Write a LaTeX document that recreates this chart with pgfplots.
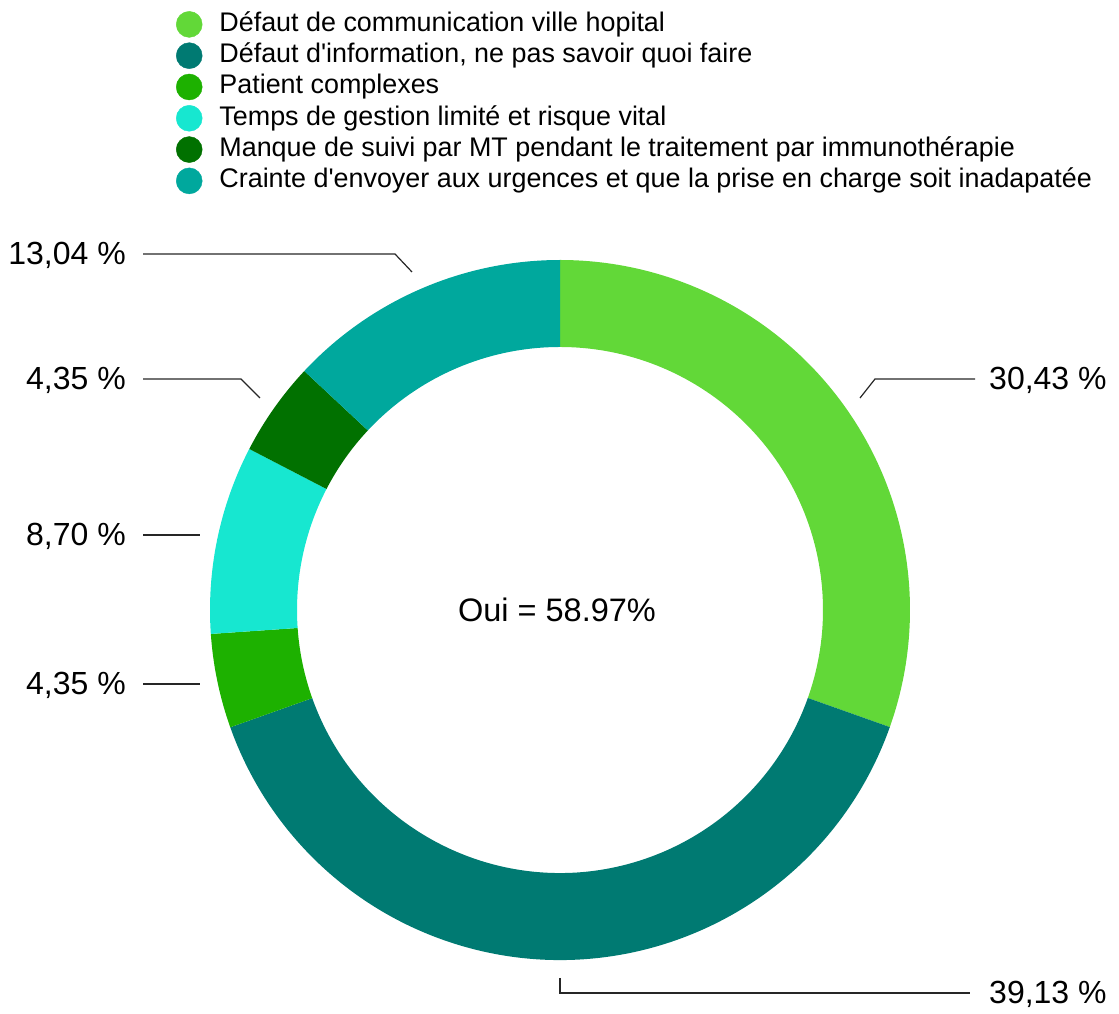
\documentclass[border=0pt]{standalone}
\usepackage{pgfplots}
\pgfplotsset{compat=1.18}
\usepackage{fontspec}
\setmainfont{Liberation Sans}
\definecolor{c1}{HTML}{62D838}
\definecolor{c2}{HTML}{007A72}
\definecolor{c3}{HTML}{1DB100}
\definecolor{c4}{HTML}{17E7D0}
\definecolor{c5}{HTML}{017100}
\definecolor{c6}{HTML}{00A89D}
% colour, cumulative start (%), value (%)
\newcommand\seg[3]{%
 \fill[#1] (axis cs:{560+350*cos(90-3.6*#2)},{404+350*sin(90-3.6*#2)})
   arc[start angle={90-3.6*#2}, end angle={90-3.6*(#2+#3)}, radius=350pt]
   -- (axis cs:{560+263*cos(90-3.6*(#2+#3))},{404+263*sin(90-3.6*(#2+#3))})
   arc[start angle={90-3.6*(#2+#3)}, end angle={90-3.6*#2}, radius=263pt] -- cycle;}
\newcommand\lbl{\fontsize{32}{36}\selectfont}
\newcommand\q{\textquotesingle}
\begin{document}
\begin{tikzpicture}
\begin{axis}[x=1pt, y=1pt, xmin=0, xmax=1119, ymin=0, ymax=1014,
  hide axis, clip=false, scale only axis,
  legend style={at={(axis description cs:0.1573,0.989)}, anchor=north west,
    draw=none, fill=none, inner sep=0pt, outer sep=0pt,
    font=\fontsize{26.9}{30}\selectfont,
    row sep=4.8pt, column sep=17pt, cells={anchor=west},
    nodes={inner sep=0pt, text height=20pt, text depth=6.5pt}},
  legend cell align=left]
\path (axis cs:0,0) rectangle (axis cs:1119,1014);
\addlegendimage{legend image code/.code={\fill[c1] (0pt,0pt) circle (13pt);}}
\addlegendentry{Défaut de communication ville hopital}
\addlegendimage{legend image code/.code={\fill[c2] (0pt,0pt) circle (13pt);}}
\addlegendentry{Défaut d\q information, ne pas savoir quoi faire}
\addlegendimage{legend image code/.code={\fill[c3] (0pt,0pt) circle (13pt);}}
\addlegendentry{Patient complexes}
\addlegendimage{legend image code/.code={\fill[c4] (0pt,0pt) circle (13pt);}}
\addlegendentry{Temps de gestion limité et risque vital}
\addlegendimage{legend image code/.code={\fill[c5] (0pt,0pt) circle (13pt);}}
\addlegendentry{Manque de suivi par MT pendant le traitement par immunothérapie}
\addlegendimage{legend image code/.code={\fill[c6] (0pt,0pt) circle (13pt);}}
\addlegendentry{Crainte d\q envoyer aux urgences et que la prise en charge soit inadapatée}
% donut segments (start, value)
\seg{c1}{0}{30.43}
\seg{c2}{30.43}{39.13}
\seg{c3}{69.56}{4.35}
\seg{c4}{73.91}{8.70}
\seg{c5}{82.61}{4.35}
\seg{c6}{86.96}{13.04}
% leader lines
\draw[black!85, line width=1.2pt] (axis cs:860,616) -- (axis cs:875,635) -- (axis cs:975,635);
\draw[black!85, line width=1.2pt] (axis cs:560,36) -- (axis cs:560,21) -- (axis cs:970,21);
\draw[black!85, line width=1.2pt] (axis cs:143,330) -- (axis cs:200,330);
\draw[black!85, line width=1.2pt] (axis cs:143,479) -- (axis cs:200,479);
\draw[black!85, line width=1.2pt] (axis cs:143,635) -- (axis cs:241,635) -- (axis cs:260,616);
\draw[black!85, line width=1.2pt] (axis cs:143,760) -- (axis cs:395,760) -- (axis cs:412,742);
% labels
\node[anchor=base west, inner sep=0pt, yshift=-11pt] at (axis cs:989,635) {\lbl 30,43 \%};
\node[anchor=base west, inner sep=0pt, yshift=-11pt] at (axis cs:989,21) {\lbl 39,13 \%};
\node[anchor=base east, inner sep=0pt, yshift=-11pt] at (axis cs:126,330) {\lbl 4,35 \%};
\node[anchor=base east, inner sep=0pt, yshift=-11pt] at (axis cs:126,479) {\lbl 8,70 \%};
\node[anchor=base east, inner sep=0pt, yshift=-11pt] at (axis cs:126,635) {\lbl 4,35 \%};
\node[anchor=base east, inner sep=0pt, yshift=-11pt] at (axis cs:126,760) {\lbl 13,04 \%};
\node[anchor=base, inner sep=0pt] at (axis cs:557,392) {\fontsize{32.5}{36}\selectfont Oui = 58.97\%};
\end{axis}
\end{tikzpicture}
\end{document}
